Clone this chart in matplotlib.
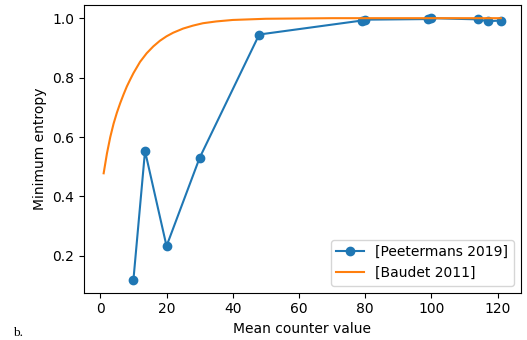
import matplotlib.pyplot as plt

# Measured minimum entropy per mean counter value
peetermans_x = [10, 13.5, 20, 30, 48, 79, 80, 99, 100, 114, 117, 121]
peetermans_y = [0.120, 0.553, 0.233, 0.530, 0.945, 0.992, 0.995, 0.997, 1.0, 0.996, 0.990, 0.992]

# Model curve
baudet_x = [1, 2, 3, 4, 5, 6, 7, 8, 9, 10, 12, 14, 16, 18, 20, 22, 25, 28, 31, 35,
            40, 45, 50, 60, 70, 80, 90, 100, 110, 121]
baudet_y = [0.478, 0.545, 0.600, 0.645, 0.682, 0.714, 0.743, 0.770, 0.793, 0.815, 0.853,
            0.882, 0.905, 0.924, 0.939, 0.951, 0.965, 0.975, 0.983, 0.989, 0.994, 0.996,
            0.998, 0.999, 1.0, 1.0, 1.0, 1.0, 1.0, 1.0]

fig = plt.figure(figsize=(5.27, 3.40), dpi=100)
ax = fig.add_axes([0.159, 0.139, 0.829, 0.846])

ax.plot(peetermans_x, peetermans_y, marker="o", label="[Peetermans 2019]")
ax.plot(baudet_x, baudet_y, label="[Baudet 2011]")

ax.set_xlabel("Mean counter value")
ax.set_ylabel("Minimum entropy")
ax.set_xticks([0, 20, 40, 60, 80, 100, 120])
ax.set_yticks([0.2, 0.4, 0.6, 0.8, 1.0])
ax.legend(loc="lower right")

fig.text(0.024, 0.012, "b.", family="Liberation Serif", fontsize=9.5)

fig.savefig("out.png", dpi=100)
